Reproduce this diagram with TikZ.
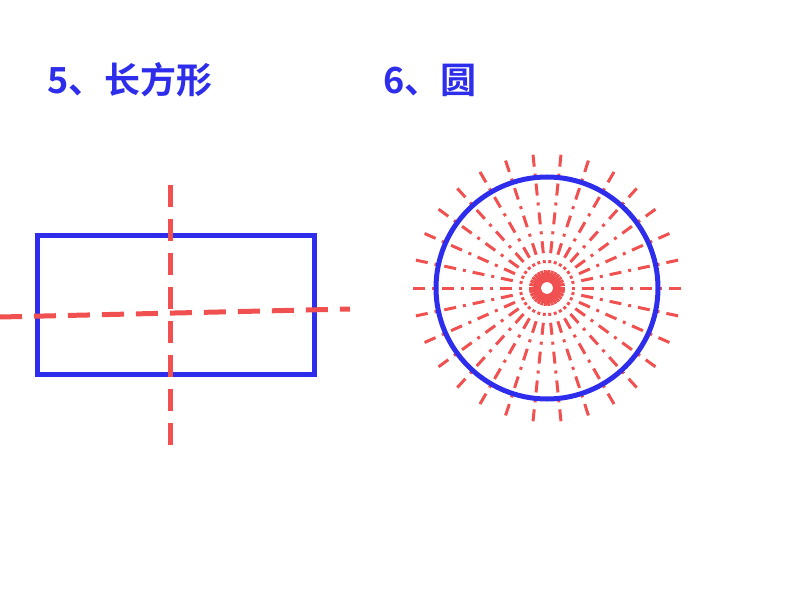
\documentclass[tikz,border=0pt]{standalone}
\usepackage{fontspec}
\usetikzlibrary{calc}
\newfontfamily\cjk{Noto Sans CJK SC}[BoldFont={Noto Sans CJK SC Bold}]
\setmainfont{Liberation Sans}
\definecolor{myblue}{RGB}{45,45,235}
\definecolor{myred}{RGB}{240,80,80}
\begin{document}
\begin{tikzpicture}[x=1pt,y=-1pt,
  title/.style={anchor=west,text=myblue,font=\fontsize{36}{36}\selectfont\bfseries\cjk},
  outline/.style={draw=myblue,line width=5pt},
  axis/.style={draw=myred,line width=5pt,dash pattern=on 22pt off 12pt},
  ray/.style={draw=myred,line width=3pt,dash pattern=on 12pt off 7pt on 3pt off 7pt}]
\useasboundingbox (0,0) rectangle (794,596);
\node[title] (t5) at (44,80) {5、长方形};
\node[title] (t6) at (380,80) {6、圆};
\node[outline,rectangle,minimum width=277pt,minimum height=139pt,inner sep=0pt] (rect) at (175.5,304.5) {};
\coordinate (vt) at (170,185); \coordinate (vb) at (170,445);
\coordinate (hl) at (0,317); \coordinate (hr) at (350,309);
\draw[axis] (vt) -- (vb);
\draw[axis] (hl) -- (hr);
\coordinate (c) at (547,288);
\foreach \a in {0,12,...,348}{
  \draw[ray] ($(c)+(\a:6)$) -- ($(c)+(\a:140)$);
}
\node[outline,circle,minimum size=222pt,inner sep=0pt] (circ) at (c) {};
\end{tikzpicture}
\end{document}
